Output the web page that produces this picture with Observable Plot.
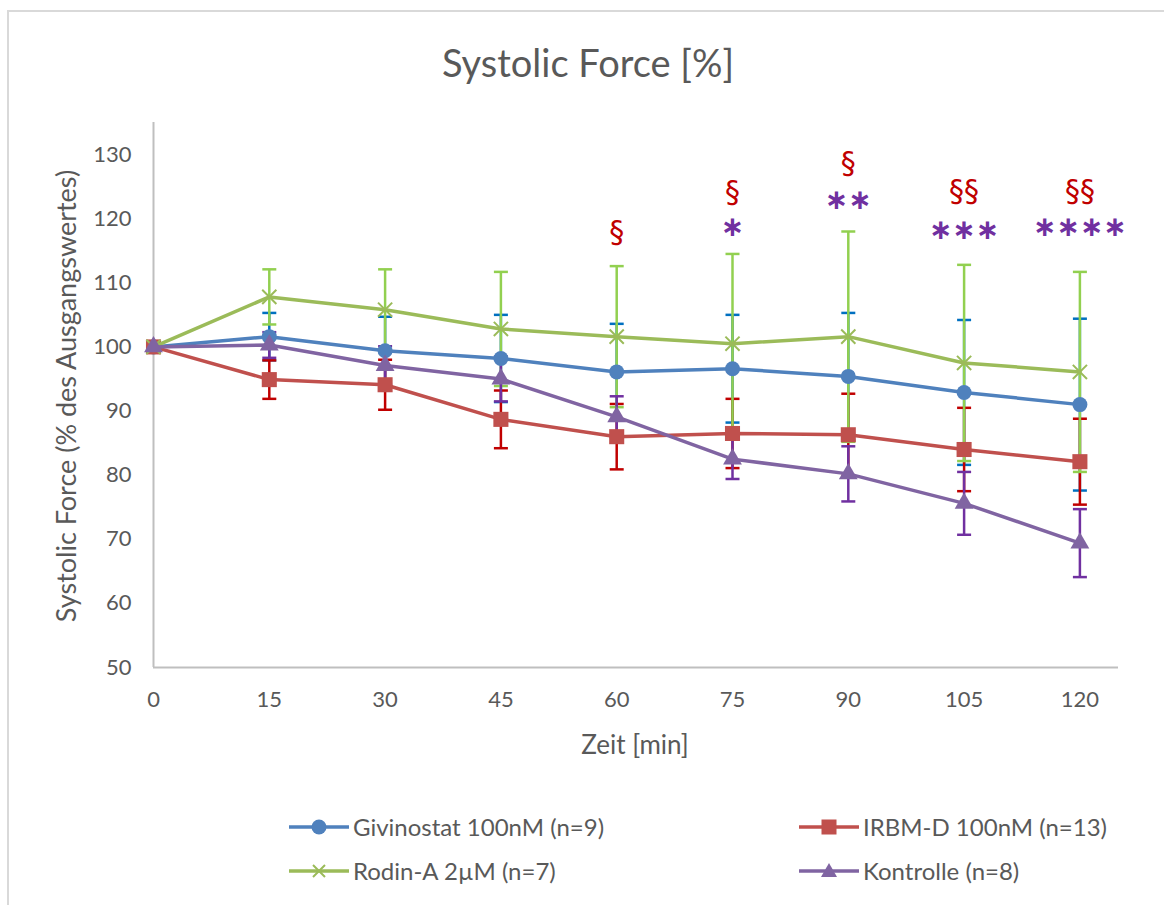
<!DOCTYPE html>
<html><head><meta charset="utf-8">
<script src="https://cdn.jsdelivr.net/npm/d3@7"></script>
<script src="https://cdn.jsdelivr.net/npm/@observablehq/plot@0.6"></script>
<style>
body{margin:0;background:#fff;}
#wrap{position:relative;width:1164px;height:905px;overflow:hidden;font-family:Lato,"Open Sans",sans-serif;color:#595959;background:#fff;}
#frame{position:absolute;left:7px;top:10px;width:1220px;height:1000px;border:2px solid #d9d9d9;box-sizing:border-box;}
#chart{position:absolute;left:0;top:0;}
#title{position:absolute;left:0;width:1176px;top:40px;text-align:center;font-size:38px;line-height:44px;}
#ytitle{position:absolute;left:65px;top:396px;transform:translate(-50%,-50%) rotate(-90deg);white-space:nowrap;font-size:27px;}
#xtitle{position:absolute;left:635px;top:744px;transform:translate(-50%,-50%);white-space:nowrap;font-size:26px;}
.leg{position:absolute;display:flex;align-items:center;font-size:24px;white-space:nowrap;}
.leg svg{margin-right:4px;}
</style></head>
<body><div id="wrap"><div id="frame"></div><div id="chart"></div>
<div id="title">Systolic Force [%]</div>
<div id="ytitle">Systolic Force (% des Ausgangswertes)</div>
<div id="xtitle">Zeit [min]</div>
</div>
<script>
const times = [0, 15, 30, 45, 60, 75, 90, 105, 120];
const givinostat = [100, 101.6, 99.4, 98.2, 96.1, 96.6, 95.4, 92.9, 91.0];
const givinostatErr = [0, 3.7, 5.3, 6.8, 7.5, 8.4, 9.9, 11.3, 13.4];
const irbm = [100, 94.9, 94.1, 88.7, 86.0, 86.5, 86.3, 84.0, 82.1];
const irbmErr = [0, 3.0, 3.9, 4.5, 5.1, 5.4, 6.4, 6.5, 6.7];
const rodin = [100, 107.8, 105.8, 102.8, 101.6, 100.5, 101.6, 97.5, 96.1];
const rodinErr = [0, 4.3, 6.3, 8.9, 11.0, 14.0, 16.4, 15.3, 15.6];
const kontrolle = [100, 100.3, 97.1, 95.0, 89.1, 82.5, 80.2, 75.6, 69.4];
const kontrolleErr = [0, 2.0, 3.0, 3.5, 3.2, 3.1, 4.3, 4.9, 5.3];

const seriesNames = ["Givinostat 100nM (n=9)", "IRBM-D 100nM (n=13)", "Rodin-A 2µM (n=7)", "Kontrolle (n=8)"];
const yTicks = [50, 60, 70, 80, 90, 100, 110, 120, 130];
const xTicks = [0, 15, 30, 45, 60, 75, 90, 105, 120];

const sigTimes = [60, 75, 90, 105, 120];
const sigSection = ["§", "§", "§", "§§", "§§"];
const sigSectionLevel = [117.9, 124.1, 128.6, 124.3, 124.3];
const sigStars = ["", "∗", "∗∗", "∗∗∗", "∗∗∗∗"];
const sigStarsLevel = [118.7, 118.7, 122.9, 118.2, 118.7];

const lineColors = ["#4f81bd", "#c0504d", "#9bbb59", "#8064a2"];
const errColors = ["#0070c0", "#c00000", "#92d050", "#7030a0"];
const symbols = ["circle", "square", "times", "triangle"];

const values = [givinostat, irbm, rodin, kontrolle];
const errs = [givinostatErr, irbmErr, rodinErr, kontrolleErr];
const data = values.map((vals, i) => times.map((t, j) => ({series: seriesNames[i], t, v: vals[j], e: errs[i][j]})));

const capSymbol = {draw(ctx) { ctx.moveTo(-7, 0); ctx.lineTo(7, 0); }};

const errMarks = [];
for (const i of [0, 1, 2, 3]) {
  const rows = data[i].filter(d => d.e > 0);
  errMarks.push(Plot.ruleX(rows, {x: "t", y1: d => d.v - d.e, y2: d => d.v + d.e, stroke: errColors[i], strokeWidth: 2.5}));
  errMarks.push(Plot.dot(rows, {x: "t", y: d => d.v + d.e, symbol: capSymbol, stroke: errColors[i], strokeWidth: 2.5, fill: "none", r: 5}));
  errMarks.push(Plot.dot(rows, {x: "t", y: d => d.v - d.e, symbol: capSymbol, stroke: errColors[i], strokeWidth: 2.5, fill: "none", r: 5}));
}
const lineMarks = [];
for (let i = 0; i < 4; i++) {
  lineMarks.push(Plot.line(data[i], {x: "t", y: "v", stroke: lineColors[i], strokeWidth: 3.5}));
  if (symbols[i] === "times") {
    lineMarks.push(Plot.dot(data[i], {x: "t", y: "v", symbol: "times", r: 6.5, stroke: lineColors[i], strokeWidth: 2, fill: "none"}));
  } else {
    const r = symbols[i] === "circle" ? 7.5 : symbols[i] === "square" ? 8.5 : 7;
    lineMarks.push(Plot.dot(data[i], {x: "t", y: "v", symbol: symbols[i], r, fill: lineColors[i], stroke: "none"}));
  }
}

const sigRows = sigTimes.map((t, i) => ({t, sec: sigSection[i], secY: sigSectionLevel[i], stars: sigStars[i], starsY: sigStarsLevel[i]}));

const chart = Plot.plot({
  width: 1164, height: 905,
  marginLeft: 153, marginRight: 46, marginTop: 122, marginBottom: 238,
  style: {fontFamily: "Lato, 'Open Sans', sans-serif", background: "transparent"},
  x: {domain: [0, 125]},
  y: {domain: [50, 135]},
  marks: [
    Plot.axisY({ticks: yTicks, tickSize: 0, tickPadding: 22, label: null, fontSize: 22, color: "#595959"}),
    Plot.axisX({ticks: xTicks, tickSize: 0, tickPadding: 24, label: null, fontSize: 22, color: "#595959"}),
    Plot.ruleX([0], {y1: 50, y2: 135, stroke: "#bfbfbf", strokeWidth: 2}),
    Plot.ruleY([50], {x1: 0, x2: 125, stroke: "#bfbfbf", strokeWidth: 2}),
    ...errMarks,
    ...lineMarks,
    Plot.text(sigRows, {x: "t", y: "secY", text: "sec", fill: "#c00000", fontSize: 30, fontFamily: "DejaVu Sans", lineAnchor: "middle"}),
    Plot.text(sigRows.filter(d => d.stars), {x: "t", y: "starsY", text: "stars", fill: "#7030a0", fontSize: 28, fontFamily: "DejaVu Sans", fontWeight: "bold", lineAnchor: "middle"})
  ]
});
document.getElementById("chart").appendChild(chart);

const legendPos = [[289, 826], [799, 826], [289, 870], [799, 870]];
const wrap = document.getElementById("wrap");
seriesNames.forEach((name, i) => {
  const div = document.createElement("div");
  div.className = "leg";
  div.style.left = legendPos[i][0] + "px";
  div.style.top = (legendPos[i][1] - 14) + "px";
  let marker;
  if (symbols[i] === "circle") marker = `<circle cx="30" cy="12" r="7.5" fill="${lineColors[i]}"/>`;
  else if (symbols[i] === "square") marker = `<rect x="22.5" y="4.5" width="15" height="15" fill="${lineColors[i]}"/>`;
  else if (symbols[i] === "times") marker = `<path d="M24,6L36,18M36,6L24,18" stroke="${lineColors[i]}" stroke-width="2"/>`;
  else marker = `<path d="M30,4L38,18L22,18Z" fill="${lineColors[i]}"/>`;
  div.innerHTML = `<svg width="60" height="24"><line x1="0" y1="12" x2="60" y2="12" stroke="${lineColors[i]}" stroke-width="3.5"/>${marker}</svg><span>${name}</span>`;
  wrap.appendChild(div);
});
</script></body></html>
